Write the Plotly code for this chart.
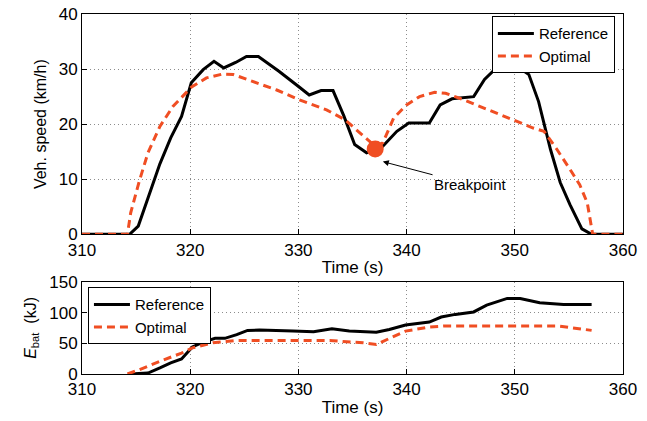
import plotly.graph_objects as go

# speed profile (km/h)
t_ref = [310, 314.4, 315.2, 316.2, 317.2, 318.2, 319.2, 320.1, 321.2, 322.2, 323.1, 324.2,
         325.2, 326.3, 328.2, 330.1, 331.0, 332.1, 333.2, 334.2, 335.2, 336.3, 337.1, 337.8,
         339.1, 340.2, 342.1, 343.1, 344.2, 346.2, 347.2, 348.6, 349.3, 350.0, 351.3, 352.2,
         353.3, 354.2, 355.1, 356.2, 357.1, 360]
v_ref = [0, 0, 1.5, 7.0, 12.8, 17.5, 21.4, 27.5, 29.9, 31.4, 30.2, 31.2,
         32.3, 32.3, 29.6, 26.7, 25.3, 26.1, 26.1, 21.5, 16.3, 14.8, 15.4, 16.0,
         18.7, 20.2, 20.2, 23.5, 24.6, 25.0, 28.1, 30.8, 31.4, 30.8, 29.0, 24.1,
         15.4, 9.4, 5.4, 1.0, 0, 0]

t_opt = [310, 314.2, 314.5, 315.3, 316.1, 317.2, 318.4, 320.1, 321.5, 323.0, 324.0, 325.8,
         328.0, 330.1, 332.6, 334.3, 335.5, 336.5, 337.1, 337.8, 338.8, 340.0, 341.2,
         342.6, 343.6, 344.9, 346.8, 348.6, 350.5, 351.7, 352.7, 353.9, 355.1, 356.0,
         356.7, 357.2, 360]
v_opt = [0, 0, 3.9, 9.7, 14.8, 19.6, 23.2, 26.7, 28.4, 29.1, 29.0, 27.8,
         26.2, 24.4, 22.6, 20.8, 18.7, 16.9, 16.0, 16.6, 21.1, 23.5, 25.0,
         25.8, 25.6, 24.7, 23.2, 21.7, 20.2, 19.3, 18.7, 15.4, 11.8, 9.0,
         5.7, 0, 0]

# battery energy (kJ)
te_ref = [314.4, 316.1, 317.2, 318.2, 319.2, 320.2, 321.2, 322.3, 323.2, 324.3, 325.3, 326.4,
          329.5, 331.4, 333.1, 334.7, 337.2, 338.4, 339.9, 342.1, 343.2, 344.5, 346.2,
          347.4, 349.3, 350.5, 352.3, 354.5, 357.1]
e_ref = [0, 1.6, 9.8, 18, 24.5, 44, 52, 58, 58, 64, 71, 71.5,
         70, 68.7, 73.6, 69.8, 68, 72.5, 79.6, 84.5, 92.7, 97, 101,
         112, 123, 123, 116, 113, 113]

te_opt = [314.2, 315.3, 317.2, 319.2, 320.2, 322.1, 324.3, 326.4, 332.9, 336.0, 337.2,
          338.4, 339.9, 342.1, 343.4, 354.1, 357.1]
e_opt = [0, 7, 20.7, 34, 42.5, 50.7, 54.5, 54.5, 54.5, 50.7, 48,
         57.8, 69.8, 76.4, 78, 78, 71]

bp_t, bp_v = [337.1], [15.5]

BLACK = 'black'
ORANGE = '#F04E23'
FONT = 'Liberation Sans, Arial, sans-serif'

fig = go.Figure()
fig.add_trace(go.Scatter(x=t_ref, y=v_ref, mode='lines', name='Reference',
                         line=dict(color=BLACK, width=3), xaxis='x', yaxis='y', legend='legend'))
fig.add_trace(go.Scatter(x=t_opt, y=v_opt, mode='lines', name='Optimal',
                         line=dict(color=ORANGE, width=3, dash='8px,5px'), xaxis='x', yaxis='y', legend='legend'))
fig.add_trace(go.Scatter(x=bp_t, y=bp_v, mode='markers', showlegend=False,
                         marker=dict(color=ORANGE, size=17), xaxis='x', yaxis='y'))
fig.add_trace(go.Scatter(x=te_ref, y=e_ref, mode='lines', name='Reference',
                         line=dict(color=BLACK, width=3), xaxis='x2', yaxis='y2', legend='legend2'))
fig.add_trace(go.Scatter(x=te_opt, y=e_opt, mode='lines', name='Optimal',
                         line=dict(color=ORANGE, width=3, dash='8px,5px'), xaxis='x2', yaxis='y2', legend='legend2'))

ax = dict(showline=True, linecolor='black', linewidth=1, mirror=True,
          ticks='inside', ticklen=5, tickcolor='black', automargin=False,
          ticklabeloverflow='allow',
          showgrid=True, gridcolor='#8c8c8c', griddash='1px,3px', gridwidth=1,
          zeroline=False, tickfont=dict(size=17, color='black'))

# page body has an 8px margin, so margins are shifted to compensate
fig.update_layout(
    width=647, height=421,
    margin=dict(l=74, r=32, t=6, b=55),
    paper_bgcolor='white', plot_bgcolor='white',
    font=dict(family=FONT, color='black'),
    xaxis=dict(ax, domain=[0, 1], range=[310, 360], dtick=10, anchor='y',
               title=dict(text='Time (s)', font=dict(size=17), standoff=2)),
    yaxis=dict(ax, domain=[0.388, 1], range=[0, 40], dtick=10, anchor='x',
               title=dict(text='Veh. speed (km/h)', font=dict(size=16), standoff=8)),
    xaxis2=dict(ax, domain=[0, 1], range=[310, 360], dtick=10, anchor='y2',
                title=dict(text='Time (s)', font=dict(size=17), standoff=2)),
    yaxis2=dict(ax, domain=[0, 0.256], range=[0, 150], dtick=50, anchor='x2',
                title=dict(text='<i>E</i><sub>bat</sub>  (kJ)', font=dict(size=16), standoff=8)),
    legend=dict(x=0.985, y=0.994, xanchor='right', yanchor='top',
                bgcolor='white', bordercolor='black', borderwidth=1,
                font=dict(size=15), itemwidth=36),
    legend2=dict(x=0.011, y=0.241, xanchor='left', yanchor='top',
                 bgcolor='white', bordercolor='black', borderwidth=1,
                 font=dict(size=15), itemwidth=36),
    annotations=[dict(x=337.8, y=13.2, ax=345.9, ay=9.0, xref='x', yref='y',
                      axref='x', ayref='y', text='Breakpoint', showarrow=True,
                      arrowhead=2, arrowwidth=1, arrowsize=1.2, arrowcolor='black',
                      font=dict(size=15, color='black'))],
)

fig.write_html('out.html')
